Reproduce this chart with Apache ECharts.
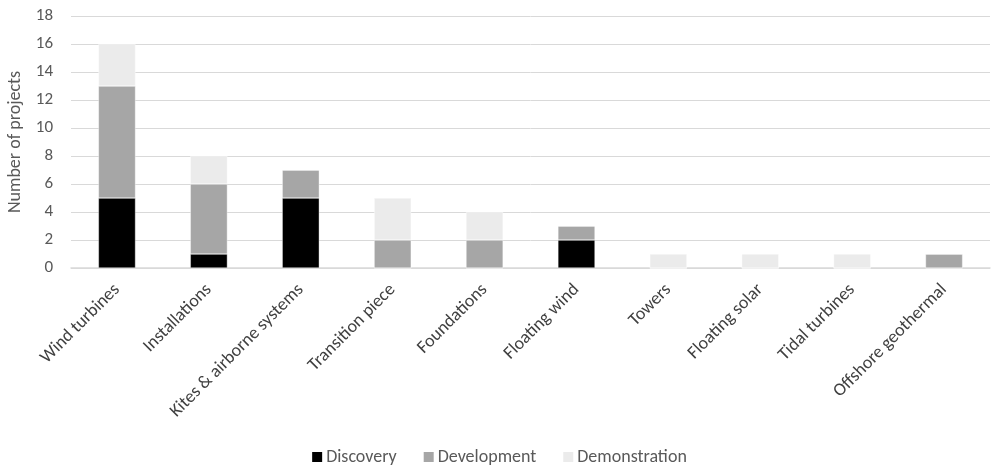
<!DOCTYPE html>
<html>
<head>
<meta charset="utf-8">
<script src="https://cdn.jsdelivr.net/npm/echarts@6/dist/echarts.min.js"></script>
<style>
  html, body { margin: 0; padding: 0; background: #fff; }
  #chart { width: 997px; height: 466px; }
</style>
</head>
<body>
<div id="chart"></div>
<script>
const categories = ['Wind turbines', 'Installations', 'Kites & airborne systems', 'Transition piece',
  'Foundations', 'Floating wind', 'Towers', 'Floating solar', 'Tidal turbines', 'Offshore geothermal'];
const discovery     = [5, 1, 5, 0, 0, 2, 0, 0, 0, 0];
const development   = [8, 5, 2, 2, 2, 1, 0, 0, 0, 1];
const demonstration = [3, 2, 0, 3, 2, 0, 1, 1, 1, 0];
const yTicks = { min: 0, max: 18, interval: 2 };

const font = 'Carlito, Lato, "Open Sans", sans-serif';
const textColor = '#595959';

function bar(name, data, color) {
  return {
    name, type: 'bar', stack: 'total', data, barWidth: 37,
    itemStyle: { color, borderColor: '#ffffff', borderWidth: 0.4 },
    emphasis: { disabled: true }
  };
}

const chart = echarts.init(document.getElementById('chart'), null, { renderer: 'canvas' });
chart.setOption({
  animation: false,
  textStyle: { fontFamily: font },
  grid: { left: 71, right: 7, top: 16, bottom: 198, outerBoundsMode: 'none', containLabel: false },
  legend: {
    top: 448, left: 'center', padding: 0,
    itemWidth: 12, itemHeight: 12, itemGap: 25,
    icon: 'rect',
    textStyle: { color: textColor, fontSize: 18, fontFamily: font, padding: [0, 0, 0, -2] },
    data: ['Discovery', 'Development', 'Demonstration']
  },
  xAxis: {
    type: 'category', data: categories,
    axisLine: { lineStyle: { color: '#d9d9d9', width: 1.5 } },
    axisTick: { show: false },
    axisLabel: { rotate: 45, interval: 0, color: '#404040', fontSize: 18, margin: 19, fontFamily: font }
  },
  yAxis: {
    type: 'value', min: yTicks.min, max: yTicks.max, interval: yTicks.interval,
    name: 'Number of projects', nameLocation: 'middle', nameGap: 45, nameRotate: 90,
    nameTextStyle: { color: textColor, fontSize: 18, fontFamily: font },
    axisLine: { show: false }, axisTick: { show: false },
    axisLabel: { color: textColor, fontSize: 17, margin: 18, fontFamily: font },
    splitLine: { lineStyle: { color: '#d9d9d9', width: 1 } }
  },
  series: [
    bar('Discovery', discovery, '#000000'),
    bar('Development', development, '#a6a6a6'),
    bar('Demonstration', demonstration, '#ebebeb')
  ]
});
</script>
</body>
</html>
